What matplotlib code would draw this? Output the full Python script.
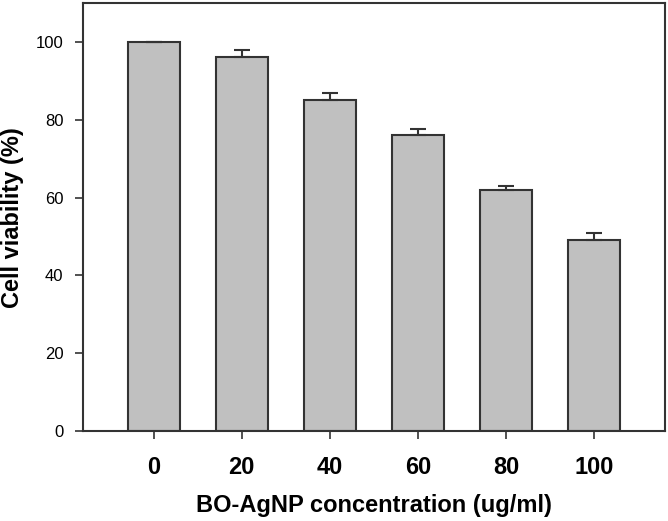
import matplotlib.pyplot as plt
import numpy as np

plt.rcParams['font.family'] = ['Liberation Sans', 'DejaVu Sans']

concentrations = ["0", "20", "40", "60", "80", "100"]
viability = [100, 96, 85, 76, 62, 49]
errors = [0, 2, 2, 1.5, 1, 2]

fig = plt.figure(figsize=(6.68, 5.21), dpi=100)
ax = fig.add_axes([0.1243, 0.1727, 0.8712, 0.8215])

x = np.arange(len(concentrations))
ax.bar(x, viability, width=0.59, color="#c0c0c0", edgecolor="#333333", linewidth=1.5,
       yerr=[np.zeros(len(errors)), errors],
       error_kw=dict(ecolor="#333333", elinewidth=1.5, capsize=6, capthick=1.5))

ax.set_xlim(-0.8, 5.8)
ax.set_ylim(0, 110)
ax.set_yticks([0, 20, 40, 60, 80, 100])
ax.set_xticks(x)
ax.set_xticklabels(concentrations, fontsize=17, fontweight='bold')
ax.tick_params(axis='y', labelsize=12, length=6, width=1.2, color="#333333", pad=8)
ax.tick_params(axis='x', length=6, width=1.2, color="#333333", pad=12)

for s in ax.spines.values():
    s.set_linewidth(1.5)
    s.set_color("#333333")

ax.set_xlabel('BO-AgNP concentration (ug/ml)', fontsize=17, fontweight='bold', labelpad=11)
fig.text(13 / 668, 0.583, 'Cell viability (%)', fontsize=17, fontweight='bold',
         rotation=90, ha='center', va='center')

fig.savefig('out.png', dpi=100)
